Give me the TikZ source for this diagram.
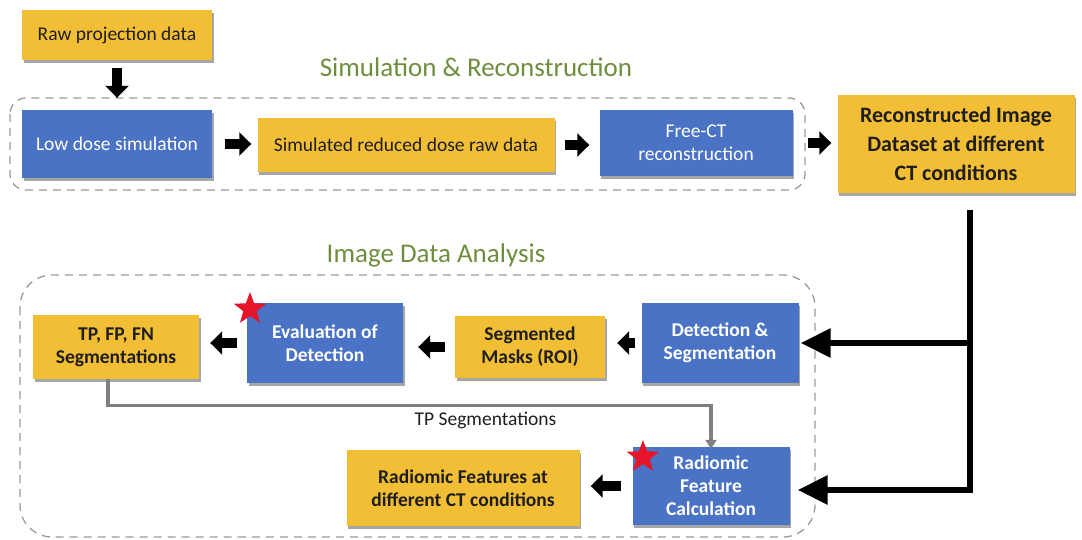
\documentclass[tikz,border=0pt]{standalone}
\usepackage{fontspec}
\setmainfont{Carlito}
\usetikzlibrary{arrows.meta,shadows,shapes.geometric}
\definecolor{boxblue}{HTML}{4A73C5}
\definecolor{boxyellow}{HTML}{F2BE35}
\definecolor{titlegreen}{HTML}{6E8E3D}
\definecolor{dashgray}{HTML}{9A9A9A}
\definecolor{txtdark}{HTML}{1E1E1E}
\definecolor{linkgray}{HTML}{7F7F7F}
\tikzset{
  basebox/.style={draw=none, align=center, inner sep=2pt,
    drop shadow={shadow xshift=1.5pt, shadow yshift=-3pt, opacity=0.35, fill=black}},
  bluebox/.style={basebox, fill=boxblue, text=white},
  yellowbox/.style={basebox, fill=boxyellow, text=txtdark},
  rowone/.style={font=\fontsize{19.5}{23}\selectfont},
  rowtwo/.style={font=\fontsize{19.5}{23}\selectfont\bfseries},
  blockarrow/.style={line width=10pt, -{Triangle[length=12pt,width=23pt]}, black},
  bigarrow/.style={line width=6pt, -{Triangle[length=30pt,width=28pt]}, black},
  grayarrow/.style={line width=3.2pt, draw=linkgray, -{Triangle[length=9pt,width=11pt]}},
  groupbox/.style={draw=dashgray, line width=1.3pt, dash pattern=on 8pt off 6pt},
  grouptitle/.style={text=titlegreen, font=\fontsize{27}{30}\selectfont},
  redstar/.style={star, star points=5, star point ratio=2.4, fill={rgb,255:red,230;green,20;blue,40}, draw=none, minimum size=34pt, inner sep=0pt}
}
\begin{document}
\begin{tikzpicture}[x=1pt,y=-1pt]
\useasboundingbox (0,0) rectangle (1082,540);
% group boxes
\draw[groupbox, rounded corners=16pt] (10,98) rectangle (805,190);
\draw[groupbox, rounded corners=32pt] (20,275) rectangle (815,537);
\node[grouptitle] (simtitle) at (476,67) {Simulation \& Reconstruction};
\node[grouptitle] (idatitle) at (436,255) {Image Data Analysis};
% row one
\node[yellowbox, rowone, minimum width=190pt, minimum height=50pt] (raw) at (117,35) {Raw projection data};
\node[bluebox, rowone, minimum width=190pt, minimum height=68pt] (lowdose) at (117,144) {Low dose simulation};
\node[yellowbox, rowone, minimum width=297pt, minimum height=54pt] (simred) at (406,145) {Simulated reduced dose raw data};
\node[bluebox, rowone, minimum width=193pt, minimum height=66pt] (freect) at (696,143) {Free-CT\\reconstruction};
\node[yellowbox, font=\fontsize{22}{29}\selectfont\bfseries, minimum width=237pt, minimum height=98pt] (recon) at (956,144) {Reconstructed Image\\Dataset at different\\CT conditions};
% row two
\node[yellowbox, rowtwo, minimum width=166pt, minimum height=64pt] (tp) at (116,347) {TP, FP, FN\\Segmentations};
\node[bluebox, rowtwo, minimum width=156pt, minimum height=80pt] (evald) at (325,343) {Evaluation of\\Detection};
\node[yellowbox, rowtwo, minimum width=150pt, minimum height=62pt] (segm) at (530,347) {Segmented\\Masks (ROI)};
\node[bluebox, rowtwo, minimum width=157pt, minimum height=80pt] (detseg) at (720,343) {Detection \&\\Segmentation};
\node[bluebox, rowtwo, minimum width=157pt, minimum height=78pt] (radfc) at (711,486) {Radiomic\\Feature\\Calculation};
\node[yellowbox, rowtwo, minimum width=233pt, minimum height=76pt] (radfeat) at (463,488) {Radiomic Features at\\different CT conditions};
% stars
\node[redstar] (star1) at (250,309) {};
\node[redstar] (star2) at (643,457) {};
% small block arrows
\draw[blockarrow, shorten <=8pt, shorten >=12pt] (raw) -- (raw |- lowdose.north);
\draw[blockarrow, shorten <=13pt, shorten >=6pt] (lowdose) -- (lowdose -| simred.west);
\draw[blockarrow, shorten <=10pt, shorten >=10pt] (simred) -- (simred -| freect.west);
\draw[blockarrow, shorten <=15pt, shorten >=6pt] (freect) -- (freect -| recon.west);
\draw[blockarrow, shorten <=10pt, shorten >=11pt] (evald.west) -- (evald.west -| tp.east);
\draw[blockarrow, shorten <=10pt, shorten >=15pt] (segm.west) -- (segm.west -| evald.east);
\draw[blockarrow, shorten <=6pt, shorten >=12pt] (detseg.west) -- (detseg.west -| segm.east);
\draw[blockarrow, shorten <=11pt, shorten >=11pt] (radfc.west) -- (radfc.west -| radfeat.east);
% big connectors
\coordinate (vtop) at (970,210);
\coordinate (j1) at (970,343);
\coordinate (j2) at (970,490);
\draw[line width=6pt] (vtop) -- ([yshift=3pt]j2);
\draw[bigarrow, shorten >=2pt] ([xshift=3pt]j1) -- (j1 -| detseg.east);
\draw[bigarrow, shorten >=8pt] ([xshift=3pt]j2) -- (j2 -| radfc.east);
% gray connector
\draw[grayarrow] ([xshift=-8pt]tp.south) -- ++(0,26) -| node[pos=0.313, below=2pt, text=txtdark, font=\fontsize{19.5}{23}\selectfont] (tplabel) {TP Segmentations} ([yshift=-2pt]radfc.north);
\end{tikzpicture}
\end{document}
